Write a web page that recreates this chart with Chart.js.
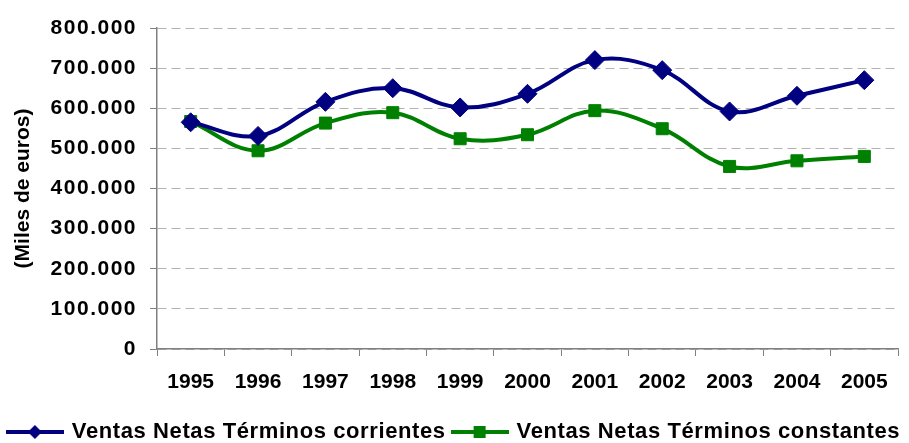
<!DOCTYPE html>
<html>
<head>
<meta charset="utf-8">
<script src="https://cdn.jsdelivr.net/npm/chart.js@4/dist/chart.umd.min.js"></script>
<style>
  body { margin: 0; background: #fff; }
  #wrap { width: 909px; height: 443px; }
</style>
</head>
<body>
<div id="wrap"><canvas id="myChart" width="909" height="443"></canvas></div>
<script>
const years = ['1995', '1996', '1997', '1998', '1999', '2000', '2001', '2002', '2003', '2004', '2005']
const corrientes = [565000, 531000, 616000, 650000, 602000, 636000, 720000, 695000, 592000, 631000, 670000]
const constantes = [567000, 494000, 563000, 589000, 524000, 534000, 594000, 549000, 455000, 469000, 480000]
const yTicks = [0, 100000, 200000, 300000, 400000, 500000, 600000, 700000, 800000]

const FONT = "'Liberation Sans', Arial, sans-serif"
const BLUE = '#000080'
const GREEN = '#008000'

/**
 * Format a number with a dot as thousands separator.
 *
 * @param {number} value - The value to format.
 * @returns {string} The formatted value.
 */
function formatMiles (value) {
  return String(value).replace(/\B(?=(\d{3})+(?!\d))/g, '.')
}

/**
 * Build a small legend icon: a line with the marker in the middle.
 *
 * @param {string} color - Colour of line and marker.
 * @param {string} shape - 'diamond' or 'square'.
 * @returns {HTMLCanvasElement} The icon.
 */
function legendIcon (color, shape) {
  const c = document.createElement('canvas')
  c.width = 58
  c.height = 16
  const ctx = c.getContext('2d')
  ctx.strokeStyle = color
  ctx.fillStyle = color
  ctx.lineWidth = 4
  ctx.beginPath()
  ctx.moveTo(0, 8)
  ctx.lineTo(58, 8)
  ctx.stroke()
  if (shape === 'diamond') {
    ctx.beginPath()
    ctx.moveTo(29 - 7, 8)
    ctx.lineTo(29, 1)
    ctx.lineTo(29 + 7, 8)
    ctx.lineTo(29, 15)
    ctx.closePath()
    ctx.fill()
  } else {
    ctx.fillRect(23, 2, 12, 12)
  }
  return c
}

/**
 * Wrap methods of an object so they run with a given letter spacing.
 *
 * @param {object} obj - Legend or scale.
 * @param {string[]} names - Method names.
 * @param {string} spacing - CSS letter spacing.
 */
function withSpacing (obj, names, spacing) {
  if (!obj || obj._spaced) return
  obj._spaced = true
  names.forEach(name => {
    const orig = obj[name]
    if (typeof orig !== 'function') return
    obj[name] = function () {
      const ctx = this.ctx
      ctx.save()
      ctx.letterSpacing = spacing
      const res = orig.apply(this, arguments)
      ctx.restore()
      return res
    }
  })
}

const icons = [legendIcon(BLUE, 'diamond'), legendIcon(GREEN, 'square')]

const spacingPlugin = {
  id: 'spacing',
  afterInit (chart) {
    const lg = chart.legend
    withSpacing(lg, ['fit', 'draw'], '0.6px')
    // legend uses the full canvas width, one row, no 10px margin under it
    const fit = lg.fit
    lg.fit = function () {
      this.maxWidth = chart.width
      fit.apply(this, arguments)
      this.height -= 10
    }
    const draw = lg.draw
    lg.draw = function () {
      const right = this.right
      this.right = chart.width
      draw.apply(this, arguments)
      this.right = right
    }
  },
  beforeLayout (chart) {
    withSpacing(chart.scales.y, ['_computeLabelSizes', 'drawLabels'], '1.5px')
  }
}

const ctx = document.getElementById('myChart').getContext('2d')

const myChart = new Chart(ctx, {
  type: 'line',
  data: {
    labels: years,
    datasets: [{
      label: 'Ventas Netas Términos corrientes',
      data: corrientes,
      borderColor: BLUE,
      backgroundColor: BLUE,
      borderWidth: 4,
      tension: 0.38,
      pointStyle: 'rectRot',
      pointRadius: 9.5,
      pointBorderWidth: 1
    },
    {
      label: 'Ventas Netas Términos constantes',
      data: constantes,
      borderColor: GREEN,
      backgroundColor: GREEN,
      borderWidth: 4,
      tension: 0.38,
      pointStyle: 'rect',
      pointRadius: 8.5,
      pointBorderWidth: 1
    }]
  },
  plugins: [spacingPlugin],
  options: {
    responsive: false,
    animation: false,
    layout: {
      padding: { top: 28, right: 11, left: 0, bottom: 0 }
    },
    scales: {
      x: {
        offset: true,
        grid: {
          offset: true,
          drawOnChartArea: false,
          tickLength: 7,
          tickColor: '#808080'
        },
        border: { color: '#808080', width: 1.5 },
        ticks: {
          color: '#000',
          padding: 14,
          maxRotation: 0,
          autoSkip: false,
          font: { family: FONT, size: 21, weight: 'bold' }
        },
        afterFit (scale) {
          scale.height = 64
        }
      },
      y: {
        min: 0,
        max: 800000,
        afterBuildTicks (scale) {
          scale.ticks = yTicks.map(v => ({ value: v }))
        },
        grid: {
          color: '#b4b4b4',
          tickColor: '#808080',
          tickLength: 7,
          tickBorderDash: []
        },
        border: { color: '#808080', width: 1.5, dash: [9, 5] },
        ticks: {
          color: '#000',
          padding: 13,
          callback: value => formatMiles(value),
          font: { family: FONT, size: 21, weight: 'bold' }
        },
        title: {
          display: true,
          text: '(Miles de euros)',
          color: '#000',
          padding: { top: 11, bottom: 0 },
          font: { family: FONT, size: 21, weight: 'bold' }
        },
        afterFit (scale) {
          scale.width = 157
        }
      }
    },
    plugins: {
      tooltip: { enabled: false },
      legend: {
        position: 'bottom',
        labels: {
          color: '#000',
          padding: 8,
          usePointStyle: true,
          pointStyleWidth: 52,
          font: { family: FONT, size: 22, weight: 'bold' },
          generateLabels (chart) {
            return chart.data.datasets.map((ds, i) => ({
              text: ds.label,
              fontColor: '#000',
              pointStyle: icons[i],
              lineWidth: 0,
              datasetIndex: i,
              hidden: false
            }))
          }
        }
      }
    }
  }
})
</script>
</body>
</html>
